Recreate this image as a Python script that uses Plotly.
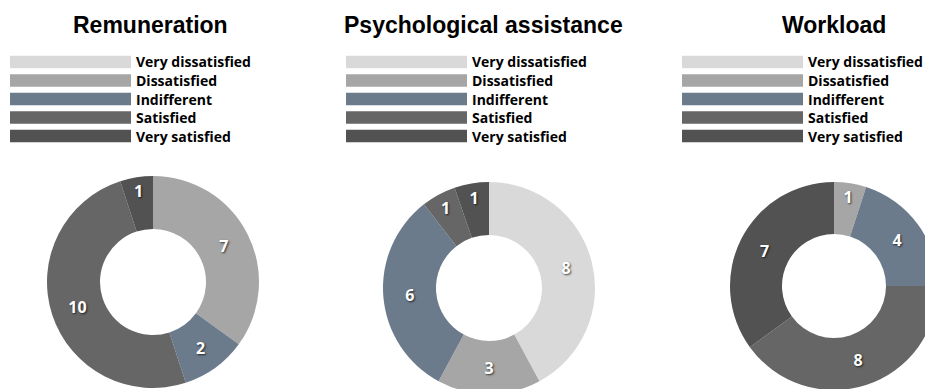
import plotly.graph_objects as go

# ---- data ----
categories = ["Very dissatisfied", "Dissatisfied", "Indifferent", "Satisfied", "Very satisfied"]
chart_titles = ["Remuneration", "Psychological assistance", "Workload"]
remuneration = [0, 7, 2, 10, 1]
psychological = [8, 3, 6, 1, 1]
workload = [0, 1, 4, 8, 7]

colors = ["#d9d9d9", "#a6a6a6", "#6b7b8c", "#666666", "#525252"]

# figure slightly larger than the 925x389 window so the donuts are cropped at the edges
W, H = 940, 395


def px_x(x):
    return x / W


def px_y(y):
    return 1 - y / H


fig = go.Figure()

series = [remuneration, psychological, workload]
# domains (in px): (x0, x1), (ytop, ybottom)
domains = [
    ((47, 259), (176, 388)),
    ((383, 595), (182, 394)),
    ((730, 938), (182, 390)),
]
title_x = [150, 484, 834]
legend_bar_x = [10, 346, 682]
legend_row_y = [62, 80.5, 99, 117.5, 136]

for vals, (dx, dy) in zip(series, domains):
    fig.add_trace(go.Pie(
        labels=categories,
        values=vals,
        text=[str(v) if v else "" for v in vals],
        textinfo="text",
        sort=False,
        direction="clockwise",
        rotation=0,
        hole=0.5,
        marker=dict(colors=colors, line=dict(width=0)),
        textposition="inside",
        insidetextorientation="horizontal",
        textfont=dict(family="Open Sans", size=16, color="white", weight="bold",
                      shadow="1px 1px 2px rgba(0,0,0,0.7)"),
        domain=dict(x=[px_x(dx[0]), px_x(dx[1])], y=[px_y(dy[1]), px_y(dy[0])]),
        showlegend=False,
        hoverinfo="label+value",
    ))

shapes = []
annotations = []
for t, tx, bx in zip(chart_titles, title_x, legend_bar_x):
    annotations.append(dict(
        text=f"<b>{t}</b>", x=px_x(tx), y=px_y(25), xref="paper", yref="paper",
        xanchor="center", yanchor="middle", showarrow=False,
        font=dict(family="Liberation Sans, Arial", size=23, color="black"),
    ))
    for cat, col, ry in zip(categories, colors, legend_row_y):
        shapes.append(dict(
            type="rect", xref="paper", yref="paper",
            x0=px_x(bx), x1=px_x(bx + 121), y0=px_y(ry + 6.3), y1=px_y(ry - 6.3),
            fillcolor=col, line=dict(width=0),
        ))
        annotations.append(dict(
            text=f"<b>{cat}</b>", x=px_x(bx + 124), y=px_y(ry), xref="paper", yref="paper",
            xanchor="left", yanchor="middle", showarrow=False,
            font=dict(family="Open Sans", size=14, color="black"),
        ))

fig.update_layout(
    width=W, height=H,
    margin=dict(l=0, r=0, t=0, b=0),
    paper_bgcolor="white", plot_bgcolor="white",
    shapes=shapes, annotations=annotations,
)

fig.write_html("out.html")
